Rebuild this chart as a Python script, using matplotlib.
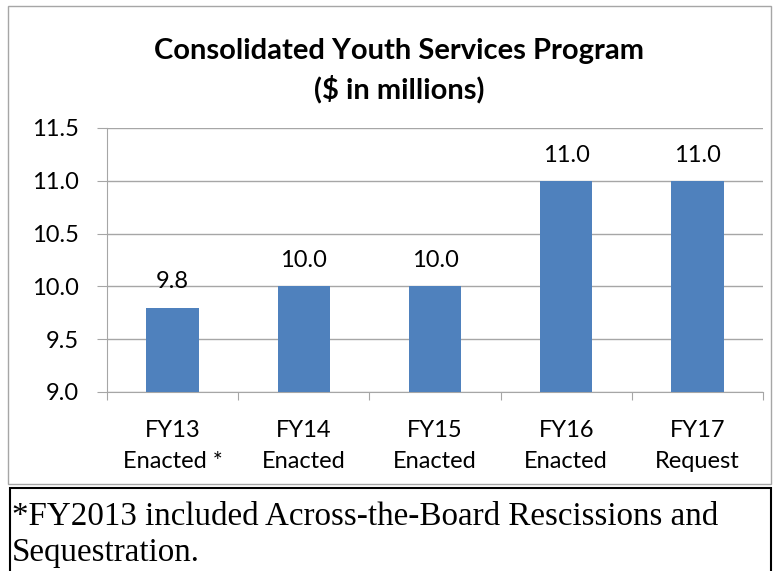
import matplotlib
matplotlib.use("Agg")
import matplotlib.pyplot as plt
from matplotlib.patches import Rectangle

categories = ["FY13\nEnacted *", "FY14\nEnacted", "FY15\nEnacted", "FY16\nEnacted", "FY17\nRequest"]
values = [9.8, 10.0, 10.0, 11.0, 11.0]
yticks = [9.0, 9.5, 10.0, 10.5, 11.0, 11.5]
title = "Consolidated Youth Services Program\n($ in millions)"
footnote = "*FY2013 included Across-the-Board Rescissions and\nSequestration."

W, H = 774, 571
fig = plt.figure(figsize=(W / 100, H / 100), dpi=100)
fig.patch.set_facecolor("white")

def fx(px):
    return px / W

def fy(py):
    return 1 - py / H

# chart frame (gray)
fig.patches.append(Rectangle((fx(8), fy(484)), fx(771) - fx(8), fy(6) - fy(484),
                             transform=fig.transFigure, fill=False,
                             edgecolor="#a6a6a6", linewidth=1.0))
# footnote box (black)
fig.patches.append(Rectangle((fx(10), fy(580)), fx(771) - fx(10), fy(488) - fy(580),
                             transform=fig.transFigure, fill=False,
                             edgecolor="black", linewidth=1.5))

ax = fig.add_axes([fx(107), fy(392), fx(763) - fx(107), fy(128) - fy(392)])
x = list(range(len(categories)))
bars = ax.bar(x, values, width=0.4, color="#4f81bd", zorder=3, bottom=0)
ax.set_ylim(9.0, 11.5)
ax.set_xlim(-0.5, len(categories) - 0.5)
ax.set_yticks(yticks)
ax.set_yticklabels([f"{v:.1f}" for v in yticks], fontsize=17, family="Lato")
ax.yaxis.grid(True, color="#a6a6a6", linewidth=1.0, zorder=0)
ax.set_axisbelow(True)
for s in ["top", "right"]:
    ax.spines[s].set_visible(False)
ax.spines["left"].set_color("#a6a6a6")
ax.spines["bottom"].set_color("#a6a6a6")
ax.tick_params(axis="y", length=7, color="#a6a6a6", pad=13)
ax.set_xticks([i + 0.5 for i in range(-1, len(categories))], minor=False)
ax.set_xticklabels([])
ax.tick_params(axis="x", which="major", length=6, color="#a6a6a6")
ax.set_xticks(x, minor=True)
ax.set_xticklabels(categories, minor=True, fontsize=17, family="Lato", linespacing=1.6)
ax.tick_params(axis="x", which="minor", length=0, pad=20)

for xi, v in zip(x, values):
    ax.annotate(f"{v:.1f}", (xi, v), xytext=(0, 13.7), textcoords="offset points",
                ha="center", va="baseline", fontsize=17, family="Lato")

fig.text(fx(399), fy(71), title, ha="center", va="center", fontsize=21,
         fontweight="bold", family="Lato", linespacing=1.45)

fig.text(fx(12), fy(535), footnote, ha="left", va="center", fontsize=23.8,
         family="Liberation Serif", linespacing=1.22)

fig.savefig("out.png", dpi=100, facecolor="white")
